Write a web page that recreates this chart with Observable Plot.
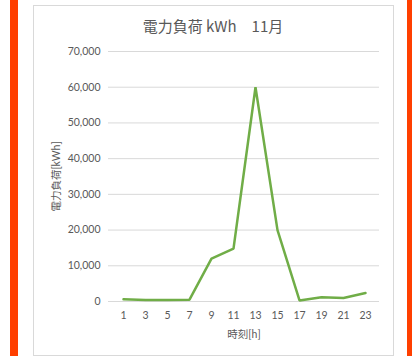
<!DOCTYPE html>
<html><head><meta charset="utf-8">
<script src="https://cdn.jsdelivr.net/npm/d3@7"></script>
<script src="https://cdn.jsdelivr.net/npm/@observablehq/plot@0.6"></script>
<style>
html,body{margin:0;padding:0;background:#fff;}
#wrap{position:relative;width:412px;height:356px;overflow:hidden;font-family:Lato,"Noto Sans CJK JP",sans-serif;}
.bar{position:absolute;top:0;height:356px;background:#FF3F00;}
#frame{position:absolute;left:33px;top:5px;width:359px;height:349px;border:1px solid #d9d9d9;}
#title{position:absolute;left:33px;width:360px;top:15px;text-align:center;font-size:15px;color:#595959;font-family:"Noto Sans CJK JP",sans-serif;}
#chart{position:absolute;left:0;top:0;}
</style></head>
<body><div id="wrap">
<div class="bar" style="left:10px;width:8px"></div>
<div class="bar" style="left:407px;width:6px"></div>
<div id="frame"></div>
<div id="title">電力負荷 kWh　11月</div>
<div id="chart"></div>
</div>
<script>
const hours = [1,3,5,7,9,11,13,15,17,19,21,23];
const loadKWh = [600,400,400,500,12000,14800,60000,20000,300,1200,1000,2400];
const yTicks = [0,10000,20000,30000,40000,50000,60000,70000];
const titleText = "電力負荷 kWh　11月";
const xLabel = "時刻[h]";
const yLabel = "電力負荷[kWh]";

const data = hours.map((h,i)=>({hour:h, value:loadKWh[i]}));

const chart = Plot.plot({
  width: 412, height: 356,
  marginLeft: 108, marginRight: 33, marginTop: 51, marginBottom: 55,
  style: {background:"transparent", fontFamily:'Lato,"Noto Sans CJK JP",sans-serif', fontSize:"10.5px", color:"#595959"},
  x: {type:"point", domain: hours, padding:0.5, align:0.5},
  y: {domain:[0,70000]},
  marks: [
    Plot.gridY(yTicks, {stroke:"#d9d9d9", strokeOpacity:1, strokeWidth:1}),
    Plot.axisY(yTicks, {tickSize:0, tickPadding:8, tickFormat:d3.format(","), label:yLabel, labelAnchor:"center", labelArrow:"none", labelOffset:56, fontSize:10.5, fill:"#595959"}),
    Plot.axisX(hours, {tickSize:0, tickPadding:10, label:xLabel, labelAnchor:"center", labelArrow:"none", labelOffset:36, fontSize:10.5, fill:"#595959"}),
    Plot.line(data, {x:"hour", y:"value", stroke:"#70AD47", strokeWidth:2.5, strokeLinejoin:"miter"})
  ]
});
document.getElementById("chart").appendChild(chart);
</script>
</body></html>
